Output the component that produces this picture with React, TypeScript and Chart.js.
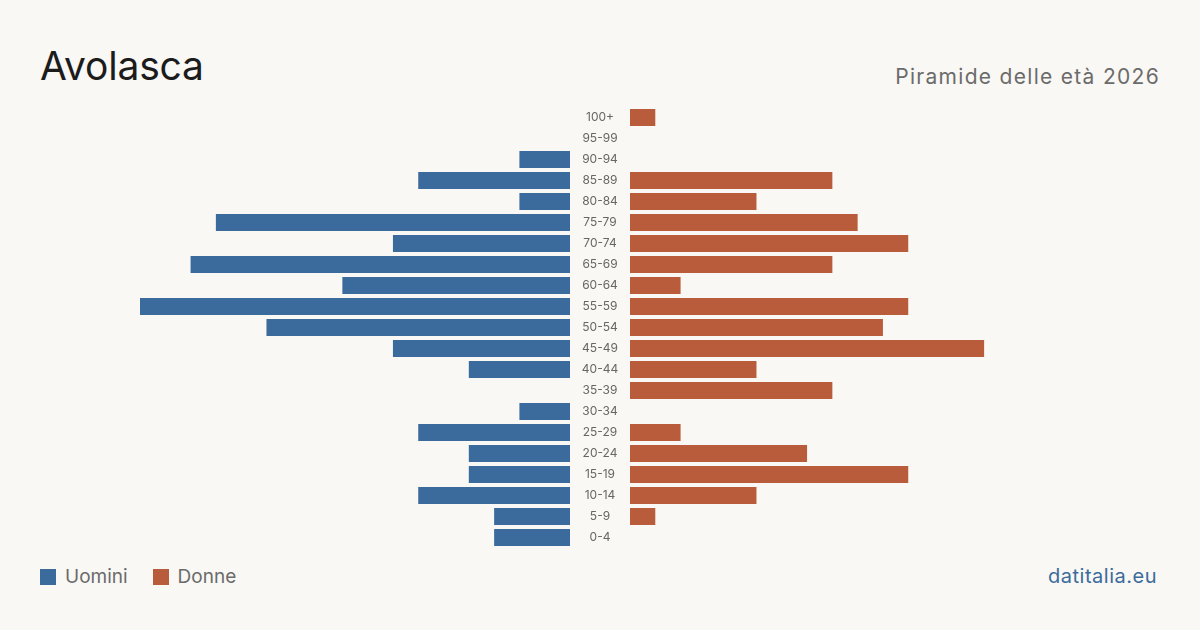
import React, { useEffect, useRef } from "react";
import { Chart, registerables } from "chart.js";

Chart.register(...registerables);

// Age groups, oldest at the top
const ageGroups = [
  "100+", "95-99", "90-94", "85-89", "80-84", "75-79", "70-74", "65-69",
  "60-64", "55-59", "50-54", "45-49", "40-44", "35-39", "30-34", "25-29",
  "20-24", "15-19", "10-14", "5-9", "0-4",
];
const men = [0, 0, 2, 6, 2, 14, 7, 15, 9, 17, 12, 7, 4, 0, 2, 6, 4, 4, 6, 3, 3];
const women = [1, 0, 0, 8, 5, 9, 11, 8, 2, 11, 10, 14, 5, 8, 0, 2, 7, 11, 5, 1, 0];

const SCALE_MAX = 17;
const BLUE = "#3b6b9c";
const ORANGE = "#b95c3c";
const BG = "#f9f8f4";
const FONT = "Inter, 'Noto Sans', sans-serif";

// Age labels drawn in the gap between the two halves
const centerLabels = {
  id: "centerLabels",
  afterDraw(chart: Chart) {
    const ctx = chart.ctx;
    const y = chart.scales.y;
    const x = chart.chartArea.left - 30;
    ctx.save();
    ctx.font = `12px ${FONT}`;
    ctx.fillStyle = "#666666";
    ctx.textAlign = "center";
    ctx.textBaseline = "middle";
    ageGroups.forEach((label, i) => {
      ctx.fillText(label, x, y.getPixelForValue(i));
    });
    ctx.restore();
  },
};

function makeConfig(values: number[], color: string, reverse: boolean, padLeft: number, extra: any[]) {
  return {
    type: "bar" as const,
    data: {
      labels: ageGroups,
      datasets: [
        {
          data: values,
          backgroundColor: color,
          borderWidth: 0,
          barPercentage: 17 / 21,
          categoryPercentage: 1,
        },
      ],
    },
    options: {
      indexAxis: "y" as const,
      animation: false as const,
      responsive: false,
      maintainAspectRatio: false,
      layout: { padding: { left: padLeft, right: 0, top: 0, bottom: 0 } },
      plugins: { legend: { display: false }, tooltip: { enabled: false } },
      scales: {
        x: { display: false, min: 0, max: SCALE_MAX, reverse },
        y: { display: false },
      },
    },
    plugins: extra,
  };
}

function PyramidHalf(props: { values: number[]; color: string; reverse: boolean; left: number; width: number; padLeft: number; labels?: boolean }) {
  const ref = useRef<HTMLCanvasElement>(null);
  useEffect(() => {
    if (!ref.current) return;
    const chart = new Chart(
      ref.current,
      makeConfig(props.values, props.color, props.reverse, props.padLeft, props.labels ? [centerLabels] : []) as any
    );
    return () => chart.destroy();
  }, []);
  return (
    <div style={{ position: "absolute", left: props.left, top: 107, width: props.width, height: 441 }}>
      <canvas ref={ref} width={props.width} height={441} style={{ width: props.width, height: 441 }} />
    </div>
  );
}

export default function App() {
  return (
    <div
      style={{
        position: "absolute",
        left: 0,
        top: 0,
        width: 1200,
        height: 630,
        background: BG,
        fontFamily: FONT,
        overflow: "hidden",
      }}
    >
      <div style={{ position: "absolute", left: 40, top: 41, fontSize: 39, color: "#1c1c1c", lineHeight: "50px", letterSpacing: -0.2 }}>
        Avolasca
      </div>
      <div style={{ position: "absolute", right: 40, top: 63, fontSize: 21, color: "#6b6b6b", lineHeight: "28px", letterSpacing: 1.3 }}>
        Piramide delle età 2026
      </div>

      <PyramidHalf values={men} color={BLUE} reverse={true} left={140} width={430} padLeft={0} />
      <PyramidHalf values={women} color={ORANGE} reverse={false} left={570} width={490} padLeft={60} labels />

      <div style={{ position: "absolute", left: 40, top: 565, display: "flex", alignItems: "center", fontSize: 19, color: "#6b6b6b", lineHeight: "24px" }}>
        <span style={{ display: "inline-block", width: 16, height: 16, background: BLUE, marginRight: 9 }} />
        <span>Uomini</span>
        <span style={{ display: "inline-block", width: 16, height: 16, background: ORANGE, marginLeft: 25, marginRight: 9 }} />
        <span>Donne</span>
      </div>
      <div style={{ position: "absolute", right: 43, top: 563, fontSize: 20, color: BLUE, lineHeight: "26px", letterSpacing: 0.5 }}>
        datitalia.eu
      </div>
    </div>
  );
}
